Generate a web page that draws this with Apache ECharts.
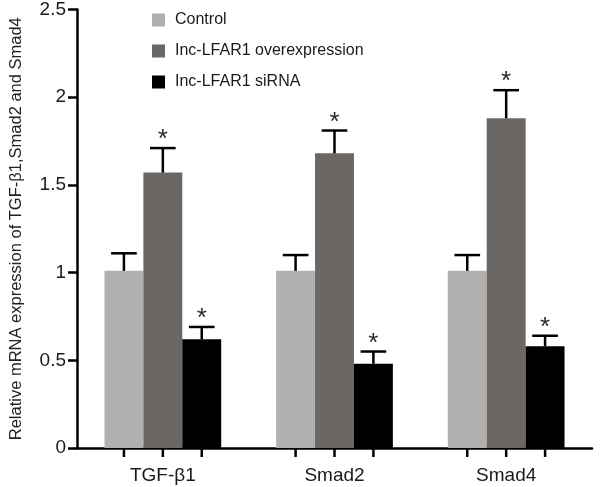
<!DOCTYPE html>
<html><head><meta charset="utf-8">
<script src="https://cdn.jsdelivr.net/npm/echarts@6/dist/echarts.min.js"></script>
<style>html,body{margin:0;padding:0;background:#fff}#c{width:600px;height:487px}</style>
</head><body><div id="c"></div>
<script>
const categories = ['TGF-\u03b21', 'Smad2', 'Smad4'];
const seriesNames = ['Control', 'Inc-LFAR1 overexpression', 'Inc-LFAR1 siRNA'];
const controlVals = [1.01, 1.01, 1.01];
const overVals = [1.57, 1.68, 1.88];
const sirnaVals = [0.62, 0.48, 0.58];
const controlErr = [0.10, 0.09, 0.09];
const overErr = [0.14, 0.13, 0.16];
const sirnaErr = [0.07, 0.07, 0.06];
const overSig = [true, true, true];
const sirnaSig = [true, true, true];
const controlSig = [false, false, false];
const yTicks = [0, 0.5, 1, 1.5, 2, 2.5];

const colors = ['#b2afaf', '#6a6765', '#000000'];
const vals = [controlVals, overVals, sirnaVals];
const errs = [controlErr, overErr, sirnaErr];
const sigs = [controlSig, overSig, sirnaSig];
const GAP = 0.32;
const FONT = 'Arial, "Liberation Sans", sans-serif';

const errData = [];
for (let s = 0; s < 3; s++) for (let c = 0; c < categories.length; c++) {
  errData.push([c, vals[s][c], errs[s][c], s, sigs[s][c] ? 1 : 0]);
}

const chart = echarts.init(document.getElementById('c'));
chart.setOption({
  animation: false,
  backgroundColor: '#fff',
  grid: { left: 72, right: 8, top: 9, bottom: 39, containLabel: false },
  legend: {
    orient: 'vertical', left: 147, top: 7, itemWidth: 13, itemHeight: 13, itemGap: 15,
    icon: 'rect',
    textStyle: { fontFamily: FONT, fontSize: 16, color: '#1a1a1a', padding: [0, 0, 0, 5] },
    data: seriesNames
  },
  xAxis: {
    type: 'category', data: categories,
    axisLine: { lineStyle: { color: '#000', width: 2.5 } },
    axisTick: { show: false },
    axisLabel: { fontFamily: FONT, fontSize: 19, color: '#1a1a1a', margin: 18 }
  },
  yAxis: {
    type: 'value', min: yTicks[0], max: yTicks[yTicks.length - 1], interval: 0.5,
    name: 'Relative mRNA expression of TGF-\u03b21,Smad2 and Smad4',
    nameLocation: 'middle', nameGap: 52,
    nameTextStyle: { fontFamily: FONT, fontSize: 16.5, color: '#222' },
    splitLine: { show: false },
    axisLine: { show: true, lineStyle: { color: '#000', width: 2.5 } },
    axisTick: { show: true, length: 9, lineStyle: { color: '#000', width: 2.5 } },
    axisLabel: { fontFamily: FONT, fontSize: 19, color: '#1a1a1a', margin: 11 }
  },
  series: [
    ...seriesNames.map((n, s) => ({
      name: n, type: 'bar', data: vals[s], barGap: '0%', barCategoryGap: (GAP * 100) + '%',
      itemStyle: { color: colors[s] }, z: 2
    })),
    {
      type: 'custom', data: errData, z: 5, clip: false, silent: true,
      renderItem: function (params, api) {
        const c = api.value(0), v = api.value(1), e = api.value(2), s = api.value(3), sig = api.value(4);
        const band = api.size([1, 0])[0];
        const bw = band * (1 - GAP) / 3;
        const base = api.coord([c, v]);
        const x = base[0] + (s - 1) * bw;
        const yTop = api.coord([c, v + e])[1];
        const y0 = api.coord([c, 0])[1];
        const cap = bw * 0.33;
        const children = [
          { type: 'line', shape: { x1: x, y1: base[1], x2: x, y2: yTop }, style: { stroke: '#000', lineWidth: 2.5 } },
          { type: 'line', shape: { x1: x - cap, y1: yTop, x2: x + cap, y2: yTop }, style: { stroke: '#000', lineWidth: 2.5 } },
          { type: 'line', shape: { x1: x, y1: y0, x2: x, y2: y0 + 9 }, style: { stroke: '#000', lineWidth: 2.5 } }
        ];
        if (sig) {
          children.push({ type: 'text', style: { text: '*', x: x, y: yTop + 5, align: 'center', verticalAlign: 'bottom', fontFamily: FONT, fontSize: 26, fill: '#2a2a2a' } });
        }
        return { type: 'group', children: children };
      }
    }
  ]
});
</script></body></html>
